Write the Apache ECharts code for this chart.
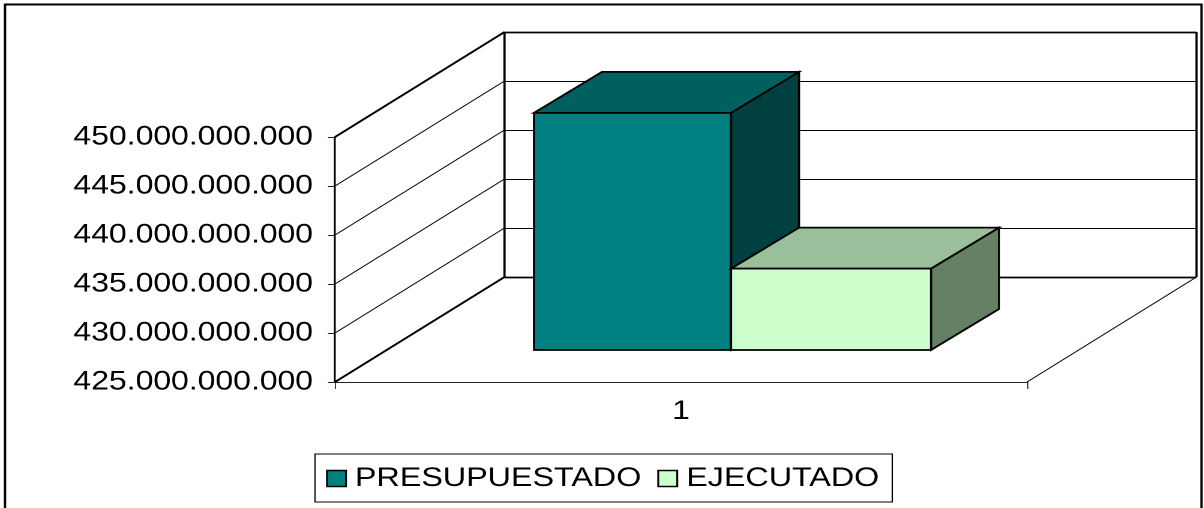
<!DOCTYPE html>
<html>
<head>
<meta charset="utf-8">
<style>
html,body{margin:0;padding:0;background:#fff;overflow:hidden;width:1204px;height:508px}
#c{width:1003.4px;height:508px;transform:scaleX(1.2);transform-origin:0 0}
</style>
<script src="https://cdn.jsdelivr.net/npm/echarts@6/dist/echarts.min.js"></script>
</head>
<body>
<div id="c"></div>
<script>
// Data
const categories = ['1'];
const seriesNames = ['PRESUPUESTADO', 'EJECUTADO'];
const presupuestado = [449200000000];
const ejecutado = [433300000000];
const yTicks = [425000000000, 430000000000, 435000000000, 440000000000, 445000000000, 450000000000];

// Look: the reference is an old office chart stretched horizontally
const S = 1.2;
const px = v => v / S;
const faces = [
  { front: '#008080', top: '#006060', side: '#004040' },
  { front: '#CCFFCC', top: '#9ABF9A', side: '#668066' }
];
const FONT = { fontFamily: '"Liberation Sans", Arial, sans-serif', fontSize: 26.6, color: '#000' };
const WALL = [px(169.5), -105];   // depth of the box
const BAR_OFF = [px(51.6), -32];  // front of bars relative to front plane
const BAR_DEPTH = [px(68), -41];  // depth of bars
const BAR_EDGES = [-0.287, -0.0023, 0.2867]; // bar edges as shares of the band, from its centre

const fmt = v => String(v).replace(/\B(?=(\d{3})+(?!\d))/g, '.');
const snap = y => Math.round(y) + 0.5;
const line = (a, b, w) => ({
  type: 'line',
  shape: { x1: a[0], y1: a[1], x2: b[0], y2: b[1] },
  style: { stroke: '#000', lineWidth: w }
});
const poly = (pts, fill) => ({
  type: 'polygon',
  shape: { points: pts },
  style: { fill: fill, stroke: '#000', lineWidth: 1.8, lineJoin: 'miter' }
});

function renderWall(params, api) {
  const v = api.value(1);
  const c = api.coord([0, v]);
  const band = api.size([1, 0])[0];
  const l = [c[0] - band / 2, c[1]];
  const bl = [l[0] + WALL[0], l[1] + WALL[1]];
  const br = [bl[0] + band, bl[1]];
  const isMin = v === yTicks[0];
  const isMax = v === yTicks[yTicks.length - 1];
  const edge = isMin || isMax;
  const children = [
    line(l, bl, edge ? 1.8 : 0.9),
    line([bl[0], snap(bl[1])], [br[0], snap(br[1])], edge ? 1.8 : 1)
  ];
  if (isMin) {
    const r = [l[0] + band, l[1]];
    children.push(line(r, br, 0.9));
    const topY = api.coord([0, yTicks[yTicks.length - 1]])[1] + WALL[1];
    children.push(line(bl, [bl[0], topY], 1.8));
    children.push(line(br, [br[0], topY], 1.8));
  }
  return { type: 'group', children };
}

function renderBar(idx) {
  return function (params, api) {
    const f = faces[idx];
    const c = api.coord([api.value(0), api.value(1)]);
    const base = api.coord([api.value(0), yTicks[0]]);
    const band = api.size([1, 0])[0];
    const x0 = c[0] + band * BAR_EDGES[idx] + BAR_OFF[0];
    const x1 = c[0] + band * BAR_EDGES[idx + 1] + BAR_OFF[0];
    const yT = c[1] + BAR_OFF[1];
    const yB = base[1] + BAR_OFF[1];
    const dx = BAR_DEPTH[0], dy = BAR_DEPTH[1];
    return {
      type: 'group',
      children: [
        poly([[x1, yT], [x1 + dx, yT + dy], [x1 + dx, yB + dy], [x1, yB]], f.side),
        poly([[x0, yT], [x0 + dx, yT + dy], [x1 + dx, yT + dy], [x1, yT]], f.top),
        poly([[x0, yT], [x1, yT], [x1, yB], [x0, yB]], f.front)
      ]
    };
  };
}

const chart = echarts.init(document.getElementById('c'), null, { renderer: 'canvas', devicePixelRatio: 2 });
chart.setOption({
  animation: false,
  backgroundColor: '#fff',
  graphic: [{
    type: 'rect', silent: true, z: -1,
    shape: { x: px(5), y: 4.5, width: px(1196.5), height: 520 },
    style: { fill: 'none', stroke: '#000', lineWidth: 2 }
  }],
  grid: { left: px(335), top: 137, width: px(692), height: 245, containLabel: false },
  legend: {
    left: px(315), top: 454,
    padding: [11, px(13), 10, px(11)],
    itemWidth: px(19), itemHeight: 16, itemGap: px(16),
    borderColor: '#000', borderWidth: 1,
    icon: 'rect',
    selectedMode: false,
    textStyle: Object.assign({}, FONT, { fontSize: 26.9, padding: [0, 0, 0, px(3)] }),
    data: seriesNames.map((n, i) => ({
      name: n,
      itemStyle: { color: faces[i].front, borderColor: '#000', borderWidth: 1.6 }
    }))
  },
  xAxis: {
    type: 'category', data: categories,
    axisLine: { lineStyle: { color: '#222', width: 1 } },
    axisTick: { show: true, length: 7, lineStyle: { color: '#222', width: 0.9 } },
    axisLabel: Object.assign({}, FONT, { margin: 16 }),
    splitLine: { show: false }
  },
  yAxis: {
    type: 'value',
    min: yTicks[0], max: yTicks[yTicks.length - 1], interval: yTicks[1] - yTicks[0],
    axisLine: { show: true, lineStyle: { color: '#000', width: 1.5 } },
    axisTick: { show: true, length: px(7), lineStyle: { color: '#222', width: 1 } },
    axisLabel: Object.assign({}, FONT, { margin: px(22), formatter: fmt }),
    splitLine: { show: false }
  },
  series: [
    {
      name: 'wall', type: 'custom', z: 1, silent: true,
      renderItem: renderWall, encode: { x: 0, y: 1 },
      data: yTicks.map(t => [0, t])
    },
    {
      name: seriesNames[0], type: 'custom', z: 3, silent: true,
      itemStyle: { color: faces[0].front },
      renderItem: renderBar(0), encode: { x: 0, y: 1 },
      data: presupuestado.map((v, i) => [i, v])
    },
    {
      name: seriesNames[1], type: 'custom', z: 4, silent: true,
      itemStyle: { color: faces[1].front },
      renderItem: renderBar(1), encode: { x: 0, y: 1 },
      data: ejecutado.map((v, i) => [i, v])
    }
  ]
});
</script>
</body>
</html>
